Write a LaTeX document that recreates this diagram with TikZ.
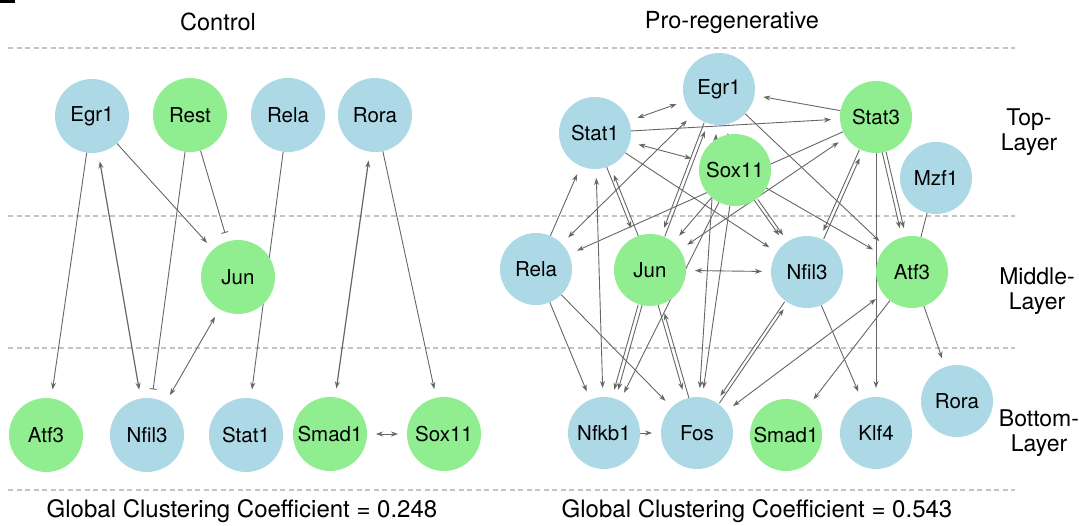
\documentclass[tikz,border=0pt]{standalone}
\usepackage{fontspec}
\setmainfont{TeX Gyre Heros}
\usetikzlibrary{arrows.meta}
\pgfdeclarelayer{bg}
\pgfsetlayers{bg,main}
\definecolor{nblue}{HTML}{ADD8E6}
\definecolor{ngreen}{HTML}{90EE90}
\definecolor{edgec}{HTML}{666666}
\definecolor{dashc}{HTML}{C4C4C4}
\tikzset{
  gnode/.style={circle, minimum size=72pt, inner sep=0pt, outer sep=0pt, font=\fontsize{20.5}{24}\selectfont},
  bn/.style={gnode, fill=nblue},
  gn/.style={gnode, fill=ngreen},
  lbn/.style={bn, minimum size=74pt},
  lgn/.style={gn, minimum size=74pt},
  arr/.style={draw=edgec, line width=0.9pt, -{Stealth[length=7pt,width=5pt]}, shorten >=9pt},
  barr/.style={draw=edgec, line width=0.9pt, {Stealth[length=7pt,width=5pt]}-{Stealth[length=7pt,width=5pt]}, shorten >=9pt, shorten <=9pt},
  inh/.style={draw=edgec, line width=0.9pt, -{Bar[width=7pt]}, shorten >=9pt},
  plainedge/.style={draw=edgec, line width=0.9pt},
  sl/.style={transform canvas={xshift=-2pt}},
  sr/.style={transform canvas={xshift=2pt}},
  layerline/.style={draw=dashc, line width=1.2pt, dash pattern=on 5pt off 3.5pt},
  titletext/.style={font=\fontsize{23.5}{27}\selectfont},
  globtext/.style={font=\fontsize{24}{27}\selectfont},
  layerlab/.style={font=\fontsize{23}{24.5}\selectfont, align=center},
}
\begin{document}
\begin{tikzpicture}[x=1pt,y=-1pt]
\useasboundingbox (0,0) rectangle (1079,525);
\fill[black] (0,0) rectangle (15,3);

% texts
\node[titletext] (tC) at (218,22) {Control};
\node[titletext] (tP) at (732,22) {Pro-regenerative};
\node[globtext] (gL) at (242,511) {Global Clustering Coefficient = 0.248};
\node[globtext] (gR) at (757,511) {Global Clustering Coefficient = 0.543};
\node[layerlab] (lT) at (1029,132) {Top-\\Layer};
\node[layerlab] (lM) at (1037,291) {Middle-\\Layer};
\node[layerlab] (lB) at (1039,433) {Bottom-\\Layer};

% left nodes
\node[lbn] (LEgr1) at (92,116) {Egr1};
\node[lgn] (LRest) at (190,115) {Rest};
\node[lbn] (LRela) at (288,115) {Rela};
\node[lbn] (LRora) at (375,115) {Rora};
\node[lgn] (LJun) at (238,277) {Jun};
\node[lgn] (LAtf3) at (46,435) {Atf3};
\node[lbn] (LNfil3) at (147,435) {Nfil3};
\node[lbn] (LStat1) at (246,435) {Stat1};
\node[lgn] (LSmad1) at (330,434) {Smad1};
\node[lgn] (LSox11) at (444,434) {Sox11};

% right nodes
\node[bn] (REgr1) at (719,89) {Egr1};
\node[bn] (RStat1) at (595,133) {Stat1};
\node[gn] (RSox11) at (735,170) {Sox11};
\node[gn] (RStat3) at (876,117) {Stat3};
\node[bn] (RMzf1) at (936,178) {Mzf1};
\node[bn] (RRela) at (536,269) {Rela};
\node[gn] (RJun) at (650,270) {Jun};
\node[bn] (RNfil3) at (807,272) {Nfil3};
\node[gn] (RAtf3) at (912,272) {Atf3};
\node[bn] (RNfkb1) at (604,433) {Nfkb1};
\node[bn] (RFos) at (697,433) {Fos};
\node[gn] (RSmad1) at (786,435) {Smad1};
\node[bn] (RKlf4) at (876,433) {Klf4};
\node[bn] (RRora) at (957,401) {Rora};

\begin{pgfonlayer}{bg}
% layer separators
\coordinate (d1a) at (8,48);  \coordinate (d1b) at (1015,48);
\coordinate (d2a) at (8,216); \coordinate (d2b) at (1015,216);
\coordinate (d3a) at (8,348); \coordinate (d3b) at (1015,348);
\coordinate (d4a) at (8,490); \coordinate (d4b) at (1015,490);
\draw[layerline] (d1a) -- (d1b);
\draw[layerline] (d2a) -- (d2b);
\draw[layerline] (d3a) -- (d3b);
\draw[layerline] (d4a) -- (d4b);

% left edges
\draw[arr] (LEgr1) -- (LAtf3);
\draw[barr, line width=1.2pt] (LEgr1) -- (LNfil3);
\draw[arr] (LEgr1) -- (LJun);
\draw[inh] (LRest) -- (LJun);
\draw[inh] (LRest) -- (LNfil3);
\draw[arr] (LRela) -- (LStat1);
\draw[barr] (LJun) -- (LNfil3);
\draw[barr, line width=1.2pt] (LRora) -- (LSmad1);
\draw[arr] (LRora) -- (LSox11);
\draw[barr] (LSmad1) -- (LSox11);

% right edges
\draw[barr] (RStat1) -- (REgr1);
\draw[arr] (RStat1) -- (RStat3);
\draw[barr] (RStat1) -- (RSox11);
\draw[arr] (RStat1) -- (RNfil3);
\draw[arr, sl] (RStat1) -- (RJun);
\draw[arr, sr] (RJun) -- (RStat1);
\draw[barr] (RStat1) -- (RNfkb1);
\draw[arr] (RRela) -- (RStat1);
\draw[barr] (RRela) -- (REgr1);
\draw[arr] (RStat3) -- (RRela);
\draw[arr] (RRela) -- (RNfkb1);
\draw[arr] (RRela) -- (RFos);
\draw[arr, sl] (REgr1) -- (RJun);
\draw[arr, sr] (RJun) -- (REgr1);
\draw[arr] (REgr1) -- (RAtf3);
\draw[arr] (RStat3) -- (REgr1);
\draw[arr] (RSox11) -- (REgr1);
\draw[barr] (REgr1) -- (RFos);
\draw[arr] (RSox11) -- (RFos);
\draw[barr] (RJun) -- (RStat3);
\draw[arr] (RSox11) -- (RNfkb1);
\draw[arr] (RSox11) -- (RJun);
\draw[barr] (RJun) -- (RNfil3);
\draw[arr, sl] (RJun) -- (RNfkb1);
\draw[arr, sr] (RJun) -- (RNfkb1);
\draw[arr, sl] (RJun) -- (RFos);
\draw[arr, sr] (RFos) -- (RJun);
\draw[arr, sl] (RNfil3) -- (RFos);
\draw[arr, sr] (RFos) -- (RNfil3);
\draw[barr] (RFos) -- (RAtf3);
\draw[arr] (RNfkb1) -- (RFos);
\draw[arr, sl] (RStat3) -- (RNfil3);
\draw[arr, sr] (RNfil3) -- (RStat3);
\draw[arr] (RStat3) -- (RKlf4);
\draw[arr, sl] (RStat3) -- (RAtf3);
\draw[arr, sr] (RStat3) -- (RAtf3);
\draw[plainedge] (RMzf1) -- (RAtf3);
\draw[arr] (RAtf3) -- (RRora);
\draw[arr] (RNfil3) -- (RKlf4);
\draw[arr] (RAtf3) -- (RSmad1);
\draw[arr, sl] (RSox11) -- (RNfil3);
\draw[arr, sr] (RSox11) -- (RNfil3);
\draw[arr] (RSox11) -- (RAtf3);
\end{pgfonlayer}
\end{tikzpicture}
\end{document}
